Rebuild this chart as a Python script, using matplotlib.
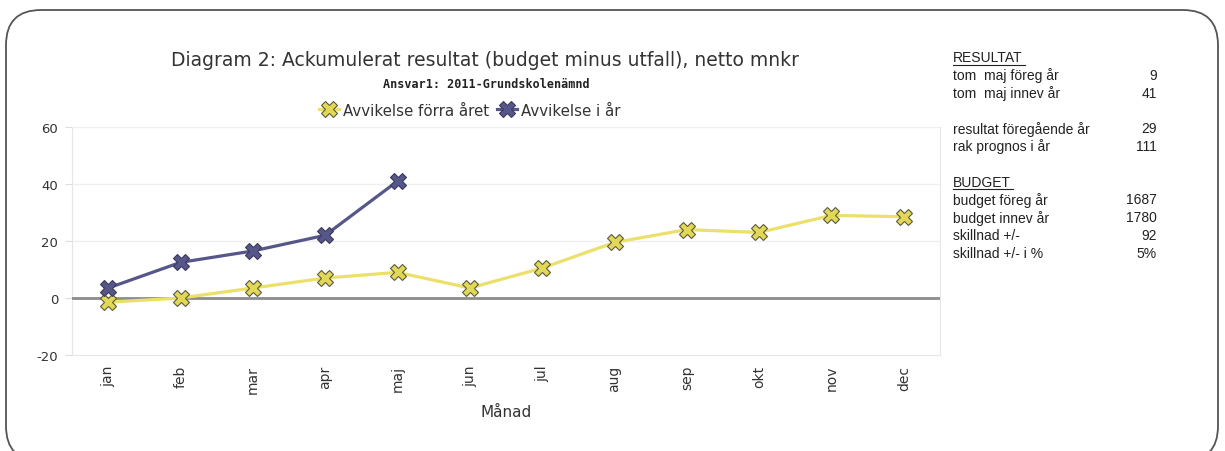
import matplotlib.pyplot as plt
from matplotlib.patches import FancyBboxPatch
from matplotlib.lines import Line2D

months = ['jan', 'feb', 'mar', 'apr', 'maj', 'jun', 'jul', 'aug', 'sep', 'okt', 'nov', 'dec']
prev_year = [-1.5, 0, 3.5, 7, 9, 3.5, 10.5, 19.5, 24, 23, 29, 28.5]
this_year = [3.5, 12.5, 16.5, 22, 41]

side_labels = ['RESULTAT', 'tom  maj föreg år', 'tom  maj innev år', '',
               'resultat föregående år', 'rak prognos i år', '',
               'BUDGET', 'budget föreg år', 'budget innev år', 'skillnad +/-', 'skillnad +/- i %']
side_values = ['', '9', '41', '', '29', '111', '', '', '1687', '1780', '92', '5%']

W, H = 1225, 452
fig = plt.figure(figsize=(W / 100, H / 100), dpi=100)
fig.patch.set_facecolor('white')

# rounded frame, its bottom edge runs past the image
frame = FancyBboxPatch((6 / W, -10 / H), 1212 / W, 451 / H,
                       boxstyle='round,pad=0,rounding_size=%f' % (35 / W),
                       transform=fig.transFigure, facecolor='none',
                       edgecolor='#555555', linewidth=1.3, mutation_aspect=W / H)
fig.patches.append(frame)

ax = fig.add_axes([72 / W, (H - 356) / H, 868 / W, 228 / H])
x = list(range(len(months)))

yellow = '#ebe06a'
blue = '#56568a'
ystyle = dict(color=yellow, linewidth=2.3, marker='X', markersize=11.5,
              markerfacecolor='#e2d858', markeredgecolor='#5e5a3a', markeredgewidth=0.8)
bstyle = dict(color=blue, linewidth=2.3, marker='X', markersize=11.5,
              markerfacecolor=blue, markeredgecolor='#3a3a5a', markeredgewidth=0.8)
ax.plot(x, prev_year, zorder=4, **ystyle)
ax.plot(x[:len(this_year)], this_year, zorder=5, **bstyle)

ax.axhline(0, color='#8c8c8c', linewidth=2, zorder=3)
for v in [20, 40, 60]:
    ax.axhline(v, color='#efefef', linewidth=1, zorder=1)

ax.set_xlim(-0.5, 11.5)
ax.set_ylim(-20, 60)
ax.set_yticks([-20, 0, 20, 40, 60])
ax.set_yticklabels(['-20', '0', '20', '40', '60'])
ax.set_xticks(x)
ax.set_xticklabels(months, rotation=90)
ax.tick_params(axis='y', length=5, color='#dddddd', labelsize=9.5, labelcolor='#333333', pad=5)
ax.tick_params(axis='x', length=0, labelsize=10, labelcolor='#333333', pad=7)
for side in ['left', 'right', 'bottom']:
    ax.spines[side].set_color('#e6e6e6')
ax.spines['top'].set_visible(False)
ax.set_xlabel('Månad', fontsize=11, color='#333333', labelpad=8)

fig.text(485 / W, 1 - 61 / H, 'Diagram 2: Ackumulerat resultat (budget minus utfall), netto mnkr',
         ha='center', va='center', fontsize=13.5, color='#333333')
fig.text(486 / W, 1 - 85 / H, 'Ansvar1: 2011-Grundskolenämnd',
         ha='center', va='center', fontsize=8.5, color='#222222', family='DejaVu Sans Mono',
         fontweight='bold')

handles = [Line2D([], [], **ystyle), Line2D([], [], **bstyle)]
fig.legend(handles, ['Avvikelse förra året', 'Avvikelse i år'], loc='center',
           bbox_to_anchor=(470 / W, 1 - 111 / H), ncol=2, frameon=False,
           handlelength=1.3, handletextpad=0.3, columnspacing=0.5, fontsize=10.8,
           labelcolor='#333333')

# side panel
y0, step = 58, 17.8
for i, (lab, val) in enumerate(zip(side_labels, side_values)):
    yy = 1 - (y0 + i * step) / H
    if not lab:
        continue
    fig.text(953 / W, yy, lab, ha='left', va='center', fontsize=10,
             family='Liberation Sans', color='#222222')
    if lab in ('RESULTAT', 'BUDGET'):
        ulen = 72 if lab == 'RESULTAT' else 60
        fig.add_artist(Line2D([953 / W, (953 + ulen) / W], [yy - 7.5 / H, yy - 7.5 / H],
                              color='#222222', linewidth=0.8, transform=fig.transFigure))
    if val:
        fig.text(1157 / W, yy, val, ha='right', va='center', fontsize=10,
                 family='Liberation Sans', color='#222222')

fig.savefig('out.png', dpi=100)
